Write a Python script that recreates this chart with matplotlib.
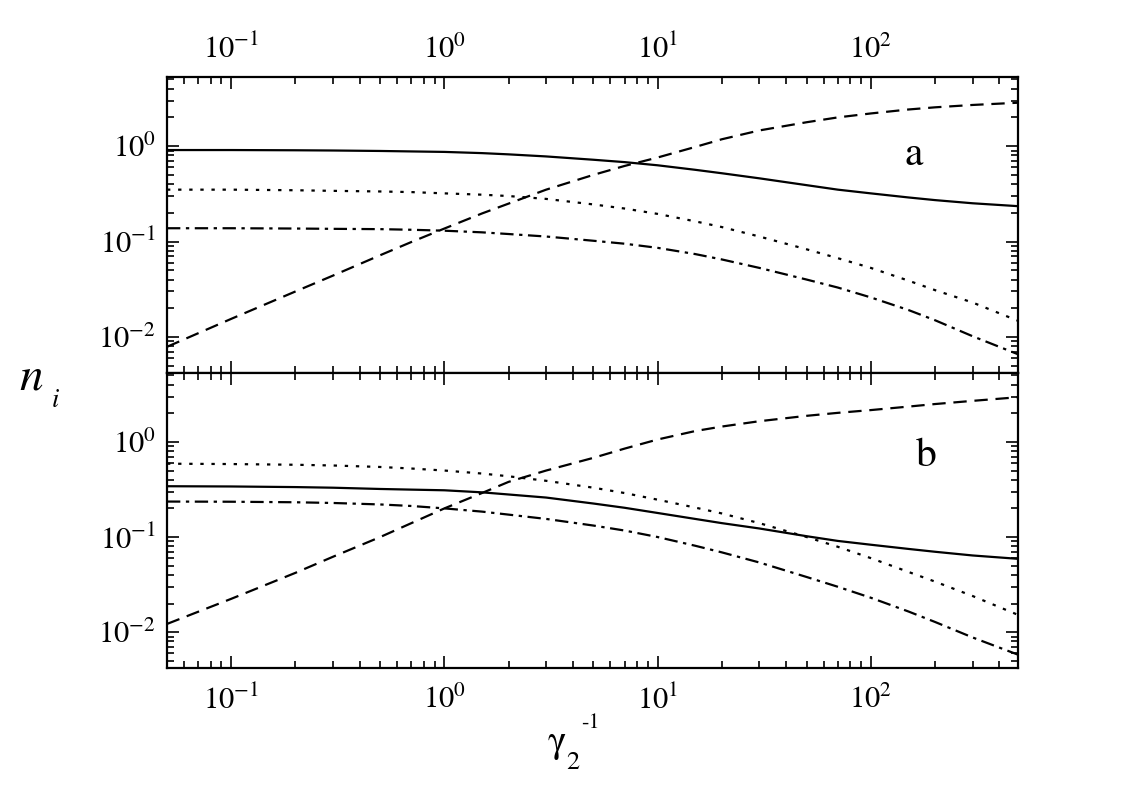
import numpy as np
import matplotlib
matplotlib.use("Agg")
import matplotlib.pyplot as plt
from matplotlib.ticker import LogLocator, LogFormatterMathtext, NullFormatter

plt.rcParams['font.family'] = ['STIXGeneral', 'Liberation Serif', 'DejaVu Serif']
plt.rcParams['mathtext.fontset'] = 'stix'
plt.rcParams['axes.unicode_minus'] = False

# gamma_2^-1 values where the curves were read
x = [0.05, 0.1, 0.2, 0.3, 0.5, 0.7, 1, 1.5, 2, 3, 5, 7, 10, 15, 20, 30, 50, 70, 100, 150, 200, 300, 490]

# panel a
a_solid = [0.91, 0.91, 0.905, 0.90, 0.89, 0.88, 0.87, 0.845, 0.82, 0.78, 0.72, 0.68, 0.63, 0.565, 0.52, 0.46, 0.39, 0.35, 0.32, 0.29, 0.272, 0.252, 0.235]
a_dash = [0.0079, 0.0155, 0.030, 0.044, 0.072, 0.099, 0.137, 0.197, 0.25, 0.35, 0.50, 0.62, 0.76, 0.98, 1.18, 1.46, 1.78, 2.0, 2.2, 2.42, 2.55, 2.7, 2.85]
a_dot = [0.35, 0.35, 0.345, 0.34, 0.335, 0.33, 0.32, 0.31, 0.30, 0.28, 0.245, 0.222, 0.195, 0.163, 0.142, 0.113, 0.083, 0.067, 0.053, 0.039, 0.031, 0.023, 0.0148]
a_dashdot = [0.138, 0.138, 0.137, 0.136, 0.135, 0.133, 0.13, 0.125, 0.12, 0.113, 0.102, 0.095, 0.086, 0.074, 0.065, 0.053, 0.040, 0.033, 0.026, 0.0192, 0.0150, 0.0102, 0.0066]

# panel b
b_solid = [0.342, 0.34, 0.335, 0.33, 0.32, 0.315, 0.31, 0.295, 0.28, 0.26, 0.225, 0.203, 0.179, 0.155, 0.14, 0.123, 0.102, 0.091, 0.083, 0.075, 0.070, 0.064, 0.059]
b_dash = [0.0122, 0.0224, 0.042, 0.062, 0.10, 0.14, 0.20, 0.29, 0.38, 0.50, 0.68, 0.85, 1.06, 1.3, 1.45, 1.65, 1.88, 2.02, 2.16, 2.35, 2.5, 2.7, 2.95]
b_dot = [0.59, 0.585, 0.575, 0.565, 0.545, 0.525, 0.50, 0.465, 0.435, 0.39, 0.33, 0.29, 0.247, 0.204, 0.177, 0.14, 0.100, 0.079, 0.060, 0.043, 0.034, 0.024, 0.0152]
b_dashdot = [0.236, 0.235, 0.232, 0.228, 0.22, 0.212, 0.20, 0.185, 0.172, 0.155, 0.132, 0.117, 0.10, 0.081, 0.069, 0.054, 0.038, 0.030, 0.023, 0.0165, 0.0128, 0.0088, 0.0058]

W, H = 1132, 789
fig = plt.figure(figsize=(W / 100, H / 100), dpi=100)

left, right = 167 / W, 1018 / W
ax_a = fig.add_axes([left, 1 - 373 / H, right - left, 296 / H])
ax_b = fig.add_axes([left, 1 - 668 / H, right - left, 295 / H])

lw = 1.6
for ax, s, d, o, dd in [(ax_a, a_solid, a_dash, a_dot, a_dashdot),
                        (ax_b, b_solid, b_dash, b_dot, b_dashdot)]:
    ax.plot(x, s, color='black', lw=lw, ls='-')
    ax.plot(x, d, color='black', lw=lw, ls=(0, (6, 3.5)))
    ax.plot(x, o, color='black', lw=lw, ls=(0, (1.5, 3.5)))
    ax.plot(x, dd, color='black', lw=lw, ls=(0, (6, 2.5, 1.5, 2.5)))
    ax.set_xscale('log')
    ax.set_yscale('log')
    ax.set_xlim(0.05, 490)
    ax.set_ylim(0.0042, 5.3)
    for sp in ax.spines.values():
        sp.set_linewidth(1.6)
    ax.xaxis.set_major_locator(LogLocator(base=10, numticks=20))
    ax.xaxis.set_minor_locator(LogLocator(base=10, subs=np.arange(2, 10), numticks=20))
    ax.yaxis.set_major_locator(LogLocator(base=10, numticks=20))
    ax.yaxis.set_minor_locator(LogLocator(base=10, subs=np.arange(2, 10), numticks=20))
    ax.xaxis.set_minor_formatter(NullFormatter())
    ax.yaxis.set_minor_formatter(NullFormatter())
    ax.yaxis.set_major_formatter(LogFormatterMathtext())
    ax.xaxis.set_major_formatter(LogFormatterMathtext())
    ax.tick_params(which='both', direction='in', top=True, bottom=True, left=True, right=True,
                   width=1.2, labelsize=22)
    ax.tick_params(which='major', length=8.5)
    ax.tick_params(which='minor', length=5)
    ax.tick_params(axis='y', pad=8)

ax_a.tick_params(axis='x', labeltop=True, labelbottom=False, pad=9)
ax_b.tick_params(axis='x', labeltop=False, labelbottom=True, pad=13)

def px(xp, yp):
    return xp / W, 1 - yp / H

fig.text(*px(905, 165), 'a', fontsize=30, va='baseline', ha='left')
fig.text(*px(916, 466), 'b', fontsize=30, va='baseline', ha='left')

fig.text(*px(19, 390), 'n', fontsize=34, style='italic', va='baseline', ha='left')
fig.text(*px(52, 407), 'i', fontsize=19, style='italic', va='baseline', ha='left')

fig.text(*px(548, 752), '\u03b3', fontsize=28, va='baseline', ha='left')
fig.text(*px(566, 769), '2', fontsize=19, va='baseline', ha='left')
fig.text(*px(581, 728), '-1', fontsize=16, va='baseline', ha='left')

fig.savefig('out.png', dpi=100)
